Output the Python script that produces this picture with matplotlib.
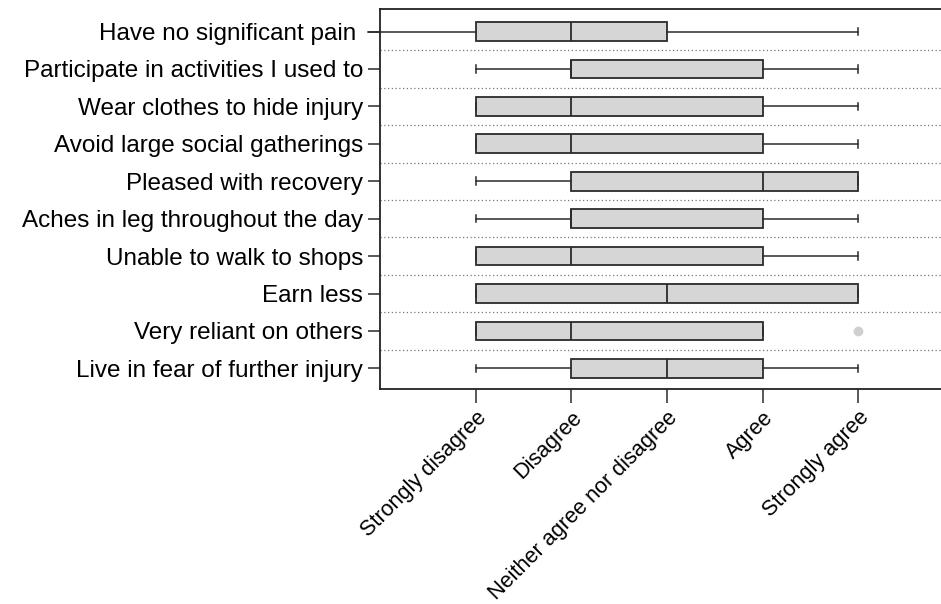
import matplotlib.pyplot as plt

plt.rcParams['font.family'] = ['Liberation Sans', 'DejaVu Sans']

ITEMS = [
    "Have no significant pain ",
    "Participate in activities I used to",
    "Wear clothes to hide injury",
    "Avoid large social gatherings",
    "Pleased with recovery",
    "Aches in leg throughout the day",
    "Unable to walk to shops",
    "Earn less",
    "Very reliant on others",
    "Live in fear of further injury",
]
LEVELS = ["Strongly disagree", "Disagree", "Neither agree nor disagree",
          "Agree", "Strongly agree"]

# five-number summaries (1 = Strongly disagree ... 5 = Strongly agree)
whislo = [-0.12, 1, 1, 1, 1, 1, 1, 1, 1, 1]
q1 = [1, 2, 1, 1, 2, 2, 1, 1, 1, 2]
med = [2, 2, 2, 2, 4, 2, 2, 3, 2, 3]
q3 = [3, 4, 4, 4, 5, 4, 4, 5, 4, 4]
whishi = [5, 5, 5, 5, 5, 5, 5, 5, 4, 5]
fliers = [[], [], [], [], [], [], [], [], [5], []]

stats = []
for i, name in enumerate(ITEMS):
    stats.append(dict(label=name, whislo=whislo[i], q1=q1[i], med=med[i],
                      q3=q3[i], whishi=whishi[i], fliers=fliers[i]))

n = len(ITEMS)
pos = [n - i for i in range(n)]

fig = plt.figure(figsize=(9.41, 6.04), dpi=100)
ax = fig.add_axes([0.4038, 0.356, 0.6, 0.629])

edge = '#2b2b2b'
res = ax.bxp(stats, positions=pos, vert=False, widths=0.5, capwidths=0.2,
             patch_artist=True,
             boxprops=dict(facecolor='#d6d6d6', edgecolor=edge, linewidth=1.3),
             medianprops=dict(color=edge, linewidth=1.3),
             whiskerprops=dict(color=edge, linewidth=1.1),
             capprops=dict(color=edge, linewidth=1.1),
             flierprops=dict(marker='o', markersize=6, markerfacecolor='#cfcfcf',
                             markeredgecolor='#cfcfcf'))

# first item: lower whisker runs past the axis without a cap
res['whiskers'][0].set_clip_on(False)
res['caps'][0].set_visible(False)

for k in range(1, n):
    ax.axhline(k + 0.5, color='#777777', linestyle=(0, (1, 2)), linewidth=0.9)

ax.set_xlim(0, 5.9)
ax.set_ylim(0.45, 10.6)
ax.set_yticks(pos)
ax.set_yticklabels(ITEMS, fontsize=17.5)
ax.set_xticks(range(1, 6))
ax.set_xticklabels(LEVELS, rotation=45, ha='right', rotation_mode='anchor',
                   fontsize=15.6)
ax.tick_params(axis='y', length=9, width=1.1, color=edge, pad=3)
ax.tick_params(axis='x', length=10, width=1.1, color=edge, pad=3)
for s in ['left', 'bottom', 'top']:
    ax.spines[s].set_linewidth(1.3)
    ax.spines[s].set_color('#222222')
ax.spines['right'].set_visible(False)

fig.savefig('out.png', dpi=100)
